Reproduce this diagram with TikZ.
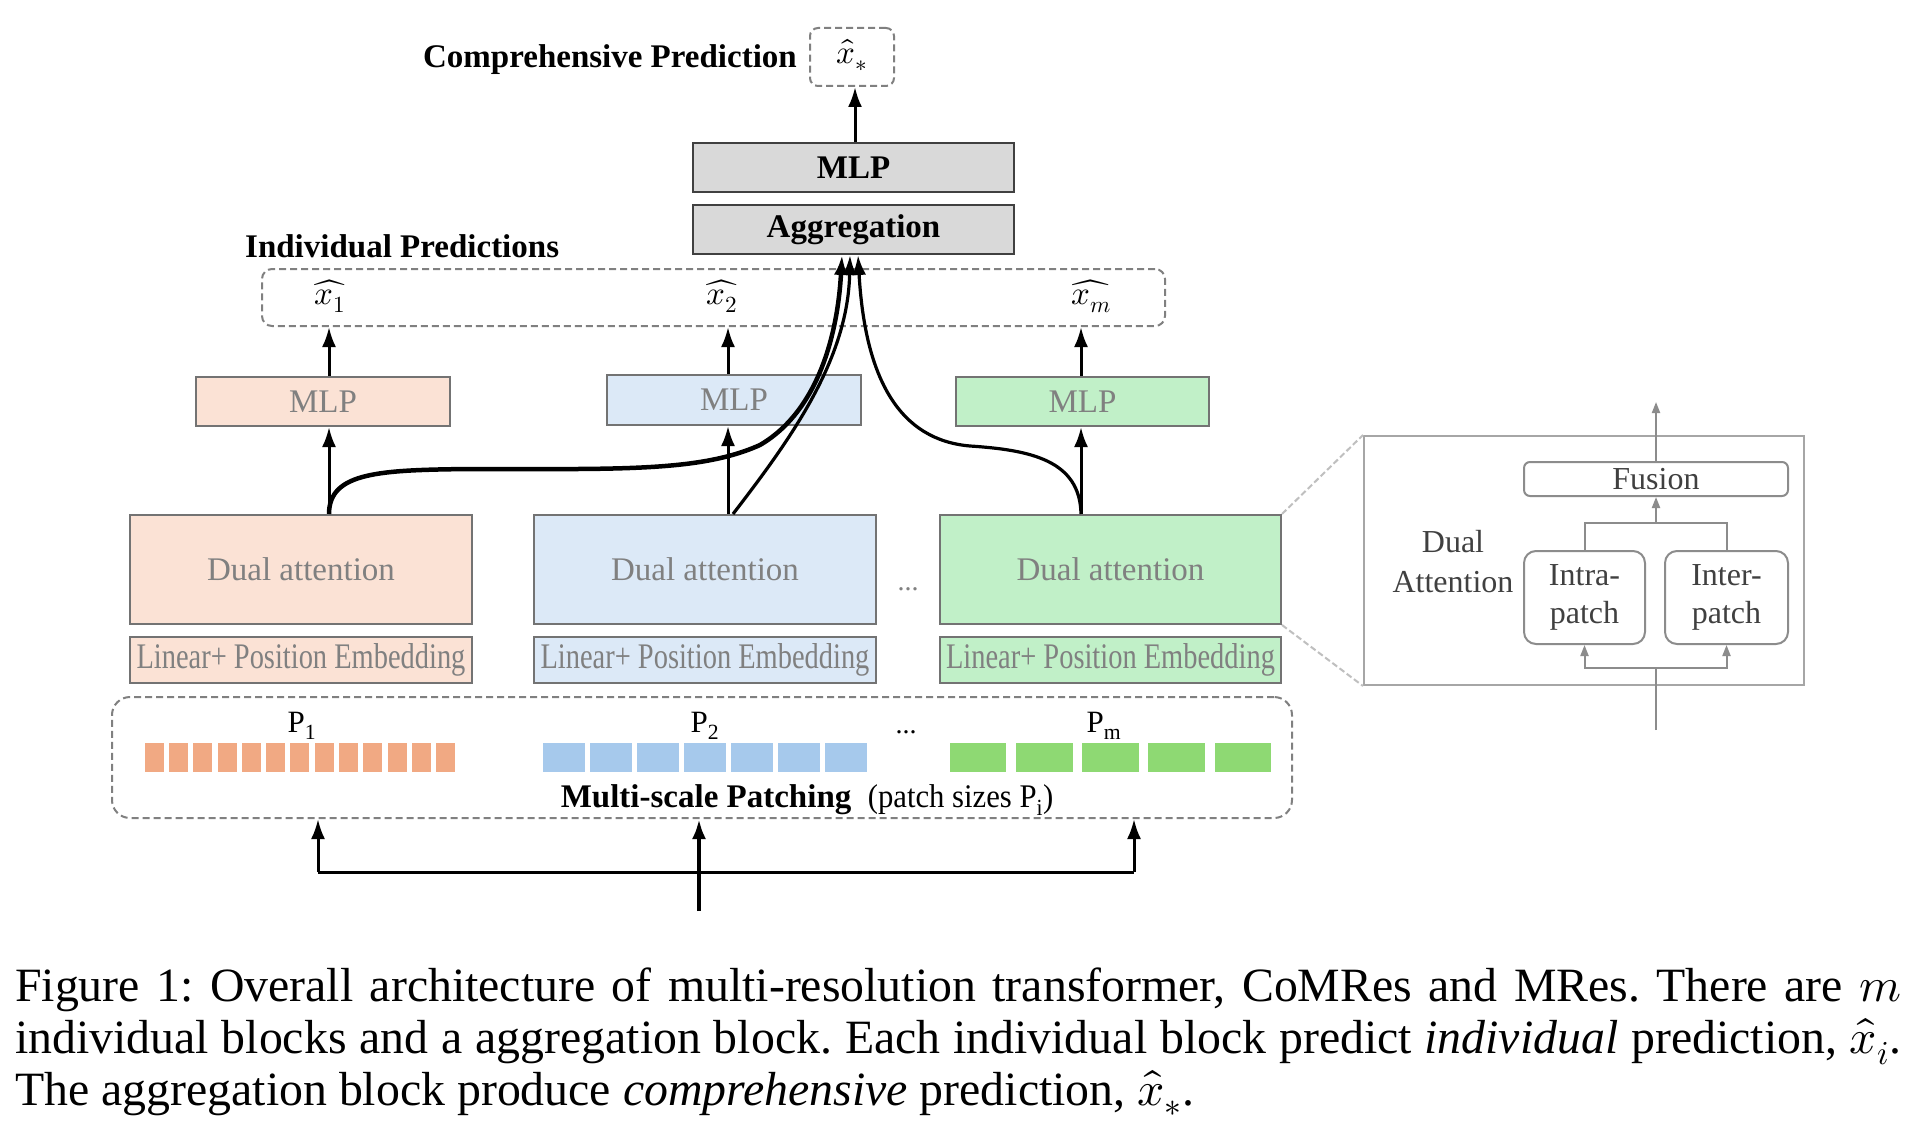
\documentclass[tikz,border=0pt]{standalone}
\usepackage{fontspec}
\usepackage{unicode-math}
\setmainfont{Liberation Serif}
\setmathfont{Latin Modern Math}
\usetikzlibrary{arrows.meta}
\definecolor{orfill}{HTML}{FBE2D5}
\definecolor{blfill}{HTML}{DCE9F7}
\definecolor{grfill}{HTML}{C1F0C8}
\definecolor{orpatch}{HTML}{F1A983}
\definecolor{blpatch}{HTML}{A6C9EC}
\definecolor{grpatch}{HTML}{8ED973}
\definecolor{boxgray}{HTML}{D9D9D9}
\definecolor{txtgray}{HTML}{808080}
\definecolor{dkgray}{HTML}{404040}
\definecolor{lngray}{HTML}{8C8C8C}
\tikzset{
  f33/.style={font=\fontsize{33}{38}\selectfont},
  graybox/.style={draw=dkgray, line width=2pt, fill=boxgray, inner sep=0pt, font=\fontsize{33}{38}\selectfont\bfseries},
  cbox/.style={draw=txtgray!90!black, line width=2pt, inner sep=0pt, text=txtgray, font=\fontsize{33}{38}\selectfont},
  lpe/.style={cbox, font=\fontsize{36}{40}\selectfont},
  dbox/.style={draw=txtgray, line width=2pt, dash pattern=on 7pt off 4pt, inner sep=0pt},
  arr/.style={line width=3pt, -{Latex[length=20pt,width=14pt]}},
  garr/.style={draw=lngray, line width=2pt, -{Triangle[length=11pt,width=8pt]}},
  gline/.style={draw=lngray, line width=2pt},
  ibox/.style={draw=lngray, line width=2pt, rounded corners=12pt, inner sep=0pt, align=center, text=dkgray, font=\fontsize{32}{38}\selectfont},
  zline/.style={draw=black!25, line width=2pt, dash pattern=on 6pt off 3pt},
  captxt/.style={anchor=base west, inner sep=0pt, font=\fontsize{47.8}{52}\selectfont},
}
\frenchspacing
\begin{document}
\begin{tikzpicture}[x=1pt,y=-1pt]
\useasboundingbox[fill=white] (0,0) rectangle (1930,1134);

% top part
\node[dbox, rounded corners=8pt, minimum width=84pt, minimum height=58pt] (xs) at (852,57) {};
\node[f33] (xsl) at (852,55) {$\widehat{x}_*$};
\node[anchor=base east, inner sep=0pt, font=\fontsize{33}{38}\selectfont\bfseries] (comp) at (797,68) {Comprehensive Prediction};
\node[graybox, minimum width=321pt, minimum height=49pt] (mlp) at (853.5,167.5) {MLP};
\node[graybox, minimum width=321pt, minimum height=49pt] (agg) at (853.5,229.5) {Aggregation};
\coordinate (ca) at (855,0);
\draw[arr] (mlp.north -| ca) -- (xs.south -| ca);

% individual predictions
\node[anchor=base west, inner sep=0pt, font=\fontsize{33}{38}\selectfont\bfseries] (indl) at (245,258) {Individual Predictions};
\node[dbox, rounded corners=10pt, minimum width=903pt, minimum height=57pt] (ind) at (713.5,297.5) {};
\node[f33] (x1) at (330,296) {$\widehat{x_1}$};
\node[f33] (x2) at (722,296) {$\widehat{x_2}$};
\node[f33] (xm) at (1091,296) {$\widehat{x_m}$};

% MLPs
\node[cbox, fill=orfill, minimum width=254pt, minimum height=49pt] (m1) at (323,401.5) {MLP};
\node[cbox, fill=blfill, minimum width=254pt, minimum height=50pt] (m2) at (734,400) {MLP};
\node[cbox, fill=grfill, minimum width=253pt, minimum height=49pt] (m3) at (1082.5,401.5) {MLP};

% dual attention
\node[cbox, fill=orfill, minimum width=342pt, minimum height=109pt] (d1) at (301,569.5) {Dual attention};
\node[cbox, fill=blfill, minimum width=342pt, minimum height=109pt] (d2) at (705,569.5) {Dual attention};
\node[cbox, fill=grfill, minimum width=341pt, minimum height=109pt] (d3) at (1110.5,569.5) {Dual attention};
\node[anchor=base, inner sep=0pt, text=txtgray, font=\fontsize{28}{32}\selectfont] (dots1) at (908,590) {...};

% linear + position embedding
\node[lpe, fill=orfill, minimum width=342pt, minimum height=46pt] (l1) at (301,660) {\scalebox{0.79}[1]{Linear+ Position Embedding}};
\node[lpe, fill=blfill, minimum width=342pt, minimum height=46pt] (l2) at (705,660) {\scalebox{0.79}[1]{Linear+ Position Embedding}};
\node[lpe, fill=grfill, minimum width=341pt, minimum height=46pt] (l3) at (1110.5,660) {\scalebox{0.79}[1]{Linear+ Position Embedding}};

% vertical arrows
\coordinate (c1) at (329,0);
\coordinate (c2) at (728,0);
\coordinate (c3) at (1081,0);
\draw[arr] (d1.north -| c1) -- (m1.south -| c1);
\draw[arr] (d2.north -| c2) -- (m2.south -| c2);
\draw[arr] (d3.north -| c3) -- (m3.south -| c3);
\draw[arr] (m1.north -| c1) -- (ind.south -| c1);
\draw[arr] (m2.north -| c2) -- (ind.south -| c2);
\draw[arr] (m3.north -| c3) -- (ind.south -| c3);

% curves into aggregation
\coordinate (g1) at (842,0);
\coordinate (g2) at (850,0);
\coordinate (g3) at (858,0);
\coordinate (s2) at (733,0);
\draw[arr, line width=4.5pt] (d1.north -| c1) .. controls (329,472) and (380,470) .. (470,469)
   .. controls (620,469) and (700,472) .. (760,445)
   .. controls (820,410) and (838,330) .. (agg.south -| g1);
\draw[arr, line width=3.2pt] (d2.north -| s2) .. controls (790,440) and (848,360) .. (agg.south -| g2);
\draw[arr, line width=3.2pt] (d3.north -| c3) .. controls (1080,460) and (1030,450) .. (970,446)
   .. controls (900,440) and (865,380) .. (agg.south -| g3);

% multi-scale patching
\node[dbox, rounded corners=18pt, minimum width=1180pt, minimum height=121pt] (bot) at (702,757.5) {};
\node[anchor=base, inner sep=0pt, font=\fontsize{31}{36}\selectfont] (p1) at (302,732) {P\textsubscript{1}};
\node[anchor=base, inner sep=0pt, font=\fontsize{31}{36}\selectfont] (p2) at (705,732) {P\textsubscript{2}};
\node[anchor=base, inner sep=0pt, font=\fontsize{31}{36}\selectfont] (pm) at (1104,732) {P\textsubscript{m}};
\node[anchor=base, inner sep=0pt, font=\fontsize{28}{32}\selectfont] (dots2) at (906,733) {...};
\foreach \i in {0,...,12} \fill[orpatch] (144.6+\i*24.3,743) rectangle ++(19,29);
\foreach \i in {0,...,6} \fill[blpatch] (542.7+\i*47,743) rectangle ++(42,29);
\foreach \i in {0,...,4} \fill[grpatch] (949.8+\i*66.2,743) rectangle ++(56.5,29);
\node[anchor=base, inner sep=0pt, font=\fontsize{33}{38}\selectfont] (msp) at (807,807) {\textbf{Multi-scale Patching}\ \ \scalebox{0.93}[1]{(patch sizes P\textsubscript{i})}};

% input arrows
\coordinate (in) at (699,911);
\coordinate (jl) at (318,872);
\coordinate (jr) at (1134,872);
\draw[line width=3pt] (jl) -- (jr);
\draw[arr] (jl) -- (bot.south -| jl);
\draw[arr] (jr) -- (bot.south -| jr);
\draw[arr, line width=4.5pt] (in) -- (bot.south -| in);

% inset
\node[draw=black!35, line width=2pt, minimum width=440pt, minimum height=249pt, inner sep=0pt] (inset) at (1584,560.5) {};
\draw[zline] (d3.north east) -- (inset.north west);
\draw[zline] (d3.south east) -- (inset.south west);
\node[ibox, rounded corners=6pt, minimum width=264pt, minimum height=34pt] (fus) at (1656,479) {Fusion};
\node[ibox, minimum width=121pt, minimum height=93pt] (intra) at (1584.5,597.5) {Intra-\\patch};
\node[ibox, minimum width=123pt, minimum height=93pt] (inter) at (1726.5,597.5) {Inter-\\patch};
\node[align=center, text=dkgray, font=\fontsize{32}{40}\selectfont] (dual) at (1453,562) {Dual\\Attention};
\coordinate (ftop) at (1656,402);
\coordinate (it) at (1656,523);
\coordinate (ib) at (1656,730);
\coordinate (ij) at (1656,668);
\draw[garr] (fus.north) -- (ftop);
\draw[gline] (intra.north) |- (it) -| (inter.north);
\draw[garr] (it) -- (fus.south);
\draw[gline] (ib) -- (ij);
\draw[garr] (ij) -| (intra.south);
\draw[garr] (ij) -| (inter.south);

% caption
\node[captxt] (cap1) at (15,1001) {\makebox[1886pt][s]{Figure 1: Overall architecture of multi-resolution transformer, CoMRes and MRes. There are $m$}};
\node[captxt] (cap2) at (15,1053) {\makebox[1886pt][s]{individual blocks and a aggregation block. Each individual block predict \textit{individual} prediction, $\widehat{x}_i$.}};
\node[captxt] (cap3) at (15,1105) {The aggregation block produce \textit{comprehensive} prediction, $\widehat{x}_*$.};
\end{tikzpicture}
\end{document}
